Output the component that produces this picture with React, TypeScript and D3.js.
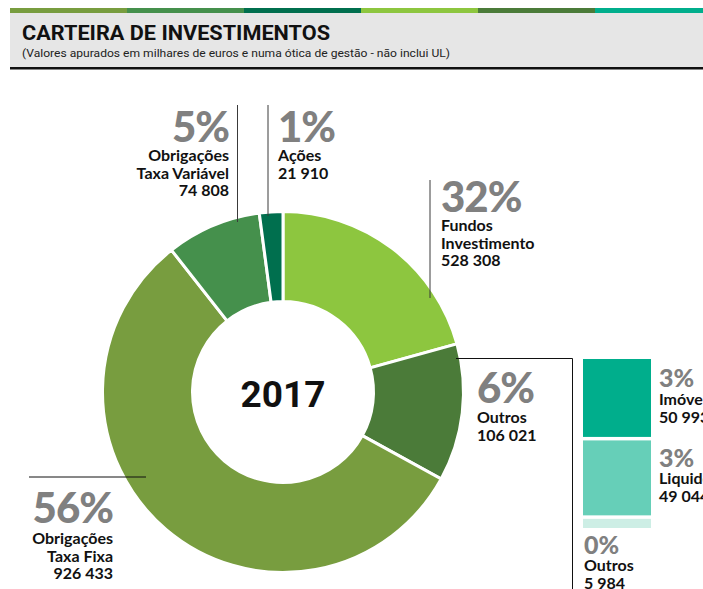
import * as d3 from "d3";

const W = 703;
const H = 589;

// main ring, clockwise from 12 o'clock
const segmentLines = [["Fundos", "Investimento"], ["Outros"], ["Obrigações", "Taxa Fixa"], ["Obrigações", "Taxa Variável"], ["Ações"]];
const segmentValues = [528308, 106021, 926433, 74808, 21910];
const segmentPct = ["32%", "6%", "56%", "5%", "1%"];
// sweep of each slice as drawn in the source graphic (% of ring), it is not proportional to the values
const drawnShare = [20.7, 12.3, 56.4, 8.5, 2.1];
const segmentColors = ["#8dc63f", "#4b7b39", "#789d3f", "#45904c", "#006f4e"];

// breakdown of "Outros"
const outrosParts = ["Imóveis", "Liquidez", "Outros"];
const outrosValues = [50993, 49044, 5984];
const outrosPct = ["3%", "3%", "0%"];
const outrosColors = ["#00ae8c", "#66cfb8", "#cdeee5"];

const stripeColors = ["#789d3f", "#45904c", "#006f4e", "#8dc63f", "#4b7b39", "#00ae8c"];

const fmt = d3.formatLocale({ decimal: ",", thousands: " ", grouping: [3], currency: ["", " €"] }).format(",d");

// label layout, same order as the segments
const segLabelPos = [
  { x: 441, pctY: 212, y: 231, anchor: "start" },
  { x: 477, pctY: 403, y: 423, anchor: "start" },
  { x: 113, pctY: 523, y: 544, anchor: "end" },
  { x: 229, pctY: 142, y: 161, anchor: "end" },
  { x: 278, pctY: 142, y: 161, anchor: "start" },
];
const partLabelPos = [
  { x: 659, pctY: 387, y: 405 },
  { x: 659, pctY: 467, y: 484 },
  { x: 584, pctY: 554, y: 571 },
];

const PCT_FONT = "Lato, 'Open Sans', sans-serif";

export default function App() {
  const cx = 283;
  const cy = 392;
  const outerR = 180.5;
  const innerR = 90.5;

  const pie = d3.pie<number>().value((d) => d).sort(null).startAngle(0).endAngle(2 * Math.PI);
  const arcs = pie(drawnShare);
  const arc = d3.arc<d3.PieArcDatum<number>>().innerRadius(innerR).outerRadius(outerR);

  // stacked bar for "Outros"
  const barX = 583;
  const barW = 68;
  const barTop = 359;
  const gap = 3.5;
  const yBar = d3.scaleLinear().domain([0, d3.sum(outrosValues)]).range([0, 162]);
  const cum = outrosValues.map((_, i) => d3.sum(outrosValues.slice(0, i)));

  const stripe = d3.scaleBand<number>().domain(d3.range(stripeColors.length)).range([10, 10 + 117 * 6]);
  const lineH = 17.5;

  return (
    <svg width={W} height={H} style={{ position: "absolute", left: 0, top: 0, background: "#fff" }}>
      {/* header */}
      <rect x={10} y={13} width={W - 10} height={55} fill="#e6e6e6" />
      {stripeColors.map((c, i) => (
        <rect key={i} x={stripe(i)} y={8} width={stripe.bandwidth()} height={5} fill={c} />
      ))}
      <rect x={10} y={67} width={W - 10} height={2.5} fill="#111" />
      <text x={22} y={40} fontFamily="Roboto, sans-serif" fontWeight={700} fontSize={20} fill="#111"
        textLength={308} lengthAdjust="spacingAndGlyphs">
        CARTEIRA DE INVESTIMENTOS
      </text>
      <text x={22} y={57} fontFamily="Roboto, sans-serif" fontWeight={400} fontSize={11.5} fill="#222"
        textLength={428} lengthAdjust="spacingAndGlyphs">
        (Valores apurados em milhares de euros e numa ótica de gestão - não inclui UL)
      </text>

      {/* ring */}
      <g transform={`translate(${cx},${cy})`}>
        {arcs.map((a, i) => (
          <path key={i} d={arc(a) || ""} fill={segmentColors[i]} stroke="#fff" strokeWidth={3} />
        ))}
        <text y={15} textAnchor="middle" fontFamily="Roboto, sans-serif" fontWeight={700} fontSize={37} fill="#111">
          2017
        </text>
      </g>

      {/* leader lines */}
      <g stroke="#3a3a3a" strokeWidth={1} fill="none">
        <line x1={237.5} y1={105} x2={237.5} y2={222} />
        <line x1={268} y1={105} x2={268} y2={216} />
        <line x1={430} y1={180} x2={430} y2={298} />
        <polyline points="456,358.5 572.5,358.5 572.5,589" stroke="#111" />
        <line x1={29} y1={477} x2={146} y2={477} stroke="#111" />
      </g>

      {/* segment labels */}
      {segLabelPos.map((p, i) => (
        <g key={i} textAnchor={p.anchor}>
          <text x={p.x} y={p.pctY} fontFamily={PCT_FONT} fontWeight={900} fontSize={42} fill="#808080" letterSpacing={-1}>
            {segmentPct[i]}
          </text>
          <text x={p.x} y={p.y} fontFamily={PCT_FONT} fontWeight={700} fontSize={16} fill="#111">
            {[...segmentLines[i], fmt(segmentValues[i])].map((t, j) => (
              <tspan key={j} x={p.x} y={p.y + j * lineH}>{t}</tspan>
            ))}
          </text>
        </g>
      ))}

      {/* Outros breakdown */}
      {outrosValues.map((v, i) => (
        <rect key={i} x={barX} y={barTop + yBar(cum[i]) + i * gap} width={barW} height={yBar(v)} fill={outrosColors[i]} />
      ))}
      {partLabelPos.map((p, i) => (
        <g key={i}>
          <text x={p.x} y={p.pctY} fontFamily={PCT_FONT} fontWeight={900} fontSize={25} fill="#808080">
            {outrosPct[i]}
          </text>
          <text x={p.x} y={p.y} fontFamily={PCT_FONT} fontWeight={700} fontSize={16} fill="#111">
            <tspan x={p.x} y={p.y}>{outrosParts[i]}</tspan>
            <tspan x={p.x} y={p.y + lineH}>{fmt(outrosValues[i])}</tspan>
          </text>
        </g>
      ))}
    </svg>
  );
}
